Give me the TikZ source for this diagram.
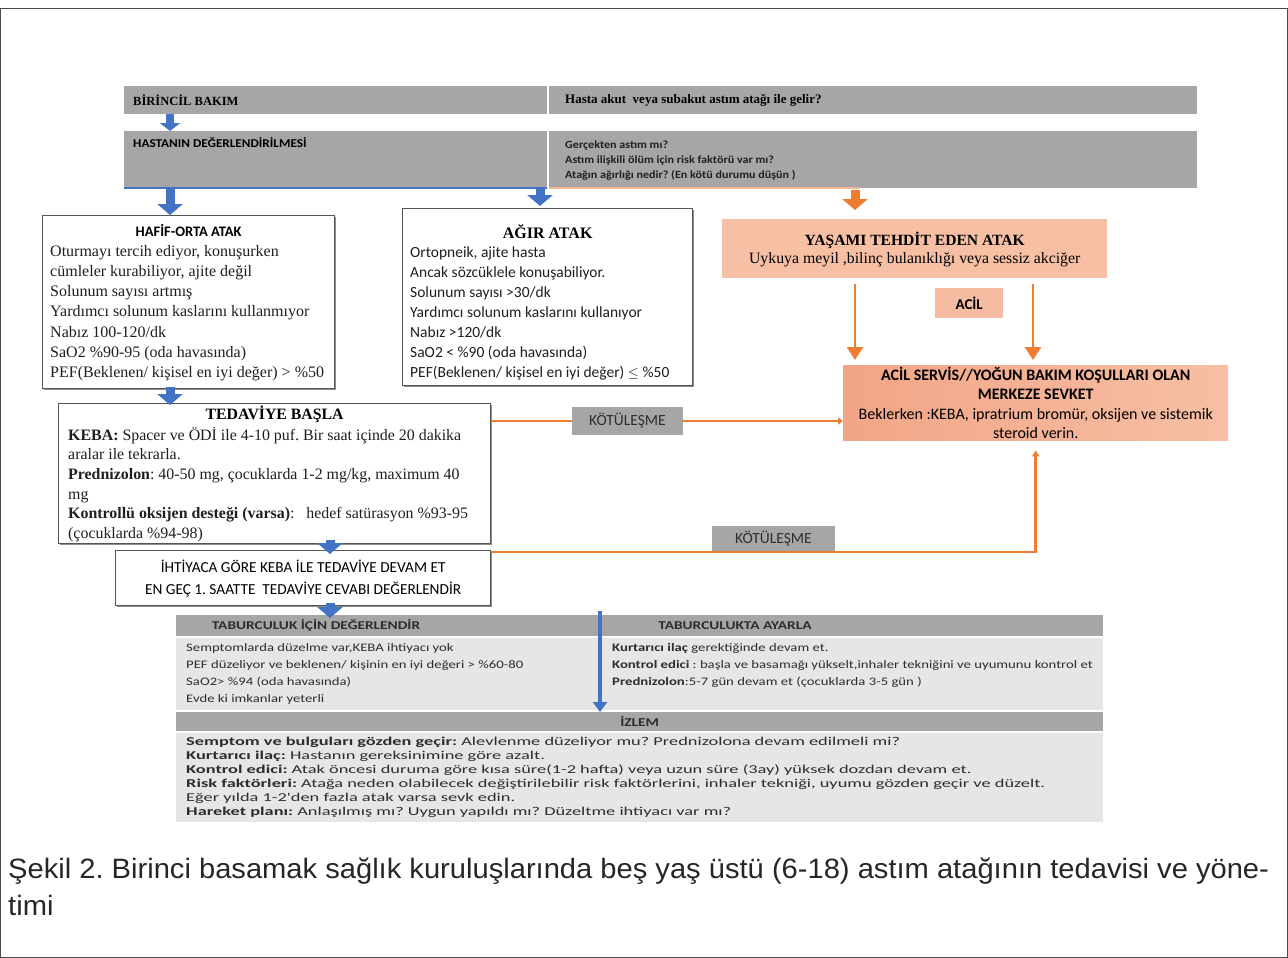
\documentclass[tikz,border=0pt]{standalone}
\usepackage{fontspec}
\setmainfont{Liberation Serif}
\newfontfamily\calfont{Carlito}
\newfontfamily\calgenis[FakeStretch=1.1]{Carlito}
\newfontfamily\genisfont[FakeStretch=1.28]{Carlito}
\newfontfamily\izlemfont[FakeStretch=1.53]{Carlito}
\newfontfamily\capfont[FakeStretch=1.04]{Liberation Sans}
\usepackage{tikz}
\usetikzlibrary{arrows.meta, positioning, calc, shadows}
\definecolor{bargray}{RGB}{166,166,166}
\definecolor{icgray}{RGB}{230,230,230}
\definecolor{astorange}{RGB}{237,125,49}
\definecolor{astblue}{RGB}{68,114,196}
\definecolor{astsalmon}{RGB}{247,191,164}
\definecolor{astsalmondark}{RGB}{242,165,134}
\definecolor{boxborder}{RGB}{85,85,85}
\definecolor{textgray}{RGB}{45,45,45}
\frenchspacing

\begin{document}
\begin{tikzpicture}[
    x=1pt, y=-1pt,
    bar/.style={rectangle, fill=bargray, inner sep=0pt, anchor=north west},
    kutu/.style={rectangle, draw=boxborder, line width=1.3pt, fill=white, inner sep=0pt, anchor=north west,
        drop shadow={shadow xshift=1.5pt, shadow yshift=-1.5pt, fill=black!45, opacity=1}},
    pembe/.style={rectangle, fill=astsalmon, inner sep=0pt, anchor=north west},
    etiket/.style={rectangle, fill=bargray, inner sep=0pt, font=\calfont\fontsize{15.5}{17}\selectfont, text=textgray},
    metin/.style={inner sep=0pt, anchor=north west, align=left, text=black!88},
    mavi/.style={draw=astblue, line width=9pt, -{Triangle[width=25pt,length=11pt]}},
    turuncu/.style={draw=astorange, line width=2.5pt}
]
\useasboundingbox (0,0) rectangle (1288,958);
\draw[black!70, line width=0.8pt] (0.5,8) rectangle (1287.5,957.5);

% Ust bantlar
\node[bar, minimum width=423pt, minimum height=28pt] (bar1sol) at (124,86) {};
\node[bar, minimum width=648pt, minimum height=28pt] (bar1sag) at (549,86) {};
\node[bar, minimum width=423pt, minimum height=57pt] (bar2sol) at (124,131) {};
\node[bar, minimum width=648pt, minimum height=57pt] (bar2sag) at (549,131) {};

\node[anchor=west, inner sep=0pt, font=\bfseries\fontsize{12.5}{14}\selectfont] (birincil) at ([xshift=9pt]bar1sol.west) {BİRİNCİL BAKIM};
\node[anchor=west, inner sep=0pt, font=\bfseries\fontsize{13}{15}\selectfont] (hasta) at ([xshift=16pt]bar1sag.west) {Hasta akut\ \ veya subakut astım atağı ile gelir?};
\node[anchor=west, inner sep=0pt, font=\calgenis\bfseries\fontsize{12}{14}\selectfont] (degerlendir) at ([xshift=9pt, yshift=-12pt]bar2sol.north west) {HASTANIN DEĞERLENDİRİLMESİ};
\node[metin, font=\calgenis\bfseries\fontsize{11}{15}\selectfont] (sorular) at ([xshift=16pt, yshift=-10pt]bar2sag.north west)
    {Gerçekten astım mı?\\Astım ilişkili ölüm için risk faktörü var mı?\\Atağın ağırlığı nedir? (En kötü durumu düşün )};

\draw[astblue, line width=2pt] (bar2sol.south west) -- (bar2sol.south east);
\draw[astorange!55, line width=2pt] (bar2sag.south west) -- ([xshift=311pt]bar2sag.south west);

% Atak kutulari
\node[kutu, minimum width=292pt, minimum height=173pt] (hafif) at (42,215) {};
\node[kutu, minimum width=290pt, minimum height=177pt] (agir) at (402,208) {};
\node[pembe, minimum width=385pt, minimum height=59pt] (yasam) at (722,219) {};
\node[pembe, fill=astsalmon!90!astsalmondark, minimum width=68pt, minimum height=30pt, font=\calfont\bfseries\fontsize{15}{17}\selectfont] (acil) at (935,288) {ACİL};
\node[pembe, left color=astsalmondark, right color=astsalmon, minimum width=385pt, minimum height=75pt] (acilservis) at (843,365) {};

\node[font=\calfont\bfseries\fontsize{14.5}{16}\selectfont, inner sep=0pt] (hafifbaslik) at ([yshift=-15pt]hafif.north) {HAFİF-ORTA ATAK};
\node[metin, font=\fontsize{16}{20.2}\selectfont] (hafifmetin) at ([xshift=8pt, yshift=-30pt]hafif.north west)
    {Oturmayı tercih ediyor, konuşurken\\cümleler kurabiliyor, ajite değil\\Solunum sayısı artmış\\Yardımcı solunum kaslarını kullanmıyor\\Nabız 100-120/dk\\SaO2 \%90-95 (oda havasında)\\PEF(Beklenen/ kişisel en iyi değer) > \%50};

\node[font=\bfseries\fontsize{16}{18}\selectfont, inner sep=0pt] (agirbaslik) at ([yshift=-24pt]agir.north) {AĞIR ATAK};
\node[metin, font=\calfont\fontsize{15.5}{20}\selectfont] (agirmetin) at ([xshift=8pt, yshift=-39pt]agir.north west)
    {Ortopneik, ajite hasta\\Ancak sözcüklele konuşabiliyor.\\Solunum sayısı >30/dk\\Yardımcı solunum kaslarını kullanıyor\\Nabız >120/dk\\SaO2 < \%90 (oda havasında)\\PEF(Beklenen/ kişisel en iyi değer) $\leq$ \%50};

\node[font=\bfseries\fontsize{15.6}{17}\selectfont, inner sep=0pt] (yasambaslik) at ([yshift=-21pt]yasam.north) {YAŞAMI TEHDİT EDEN ATAK};
\node[font=\fontsize{15.8}{17}\selectfont, inner sep=0pt] (yasammetin) at ([yshift=-41pt]yasam.north) {Uykuya meyil ,bilinç bulanıklığı veya sessiz akciğer};

\node[align=center, inner sep=0pt, font=\calfont\fontsize{16}{19.5}\selectfont] (acilmetin) at (acilservis.center)
    {\textbf{ACİL SERVİS//YOĞUN BAKIM KOŞULLARI OLAN}\\\textbf{MERKEZE SEVKET}\\Beklerken :KEBA, ipratrium bromür, oksijen ve sistemik\\steroid verin.};

% Tedavi
\node[kutu, minimum width=432pt, minimum height=140pt] (tedavi) at (58,403) {};
\node[font=\bfseries\fontsize{15.8}{17}\selectfont, inner sep=0pt] (tedavibaslik) at ([yshift=-11pt]tedavi.north) {TEDAVİYE BAŞLA};
\node[metin, font=\fontsize{15.9}{19.6}\selectfont] (tedavimetin) at ([xshift=10pt, yshift=-24pt]tedavi.north west)
    {\textbf{KEBA:} Spacer ve ÖDİ ile 4-10 puf. Bir saat içinde 20 dakika\\aralar ile tekrarla.\\\textbf{Prednizolon}: 40-50 mg, çocuklarda 1-2 mg/kg, maximum 40\\mg\\\textbf{Kontrollü oksijen desteği (varsa)}:\ \ \ hedef satürasyon \%93-95\\(çocuklarda \%94-98)};

\node[kutu, minimum width=375pt, minimum height=55pt, align=center, font=\calfont\fontsize{15.3}{22}\selectfont] (ihtiyac) at (115,550)
    {İHTİYACA GÖRE KEBA İLE TEDAVİYE DEVAM ET\\EN GEÇ 1. SAATTE\ \ TEDAVİYE CEVABI DEĞERLENDİR};

% Kotulesme baglantilari
\node[etiket, minimum width=111pt, minimum height=28pt] (kotu1) at (627.5,421) {KÖTÜLEŞME};
\node[etiket, minimum width=123pt, minimum height=26pt] (kotu2) at (773.5,539) {KÖTÜLEŞME};
\draw[turuncu] (tedavi.east |- kotu1) -- (kotu1.west);
\draw[turuncu, -{Triangle[width=7pt,length=5pt]}] (kotu1.east) -- (kotu1 -| acilservis.west);
\draw[turuncu, -{Triangle[width=7pt,length=6pt]}] ([yshift=-2pt]ihtiyac.north east) -| ([yshift=-10pt]acilservis.south);

% Taburculuk ve izlem
\node[bar, minimum width=927pt, minimum height=21pt] (taburbar) at (176,615) {};
\node[bar, fill=icgray, minimum width=927pt, minimum height=72pt] (taburic) at (176,638) {};
\node[bar, minimum width=927pt, minimum height=19pt] (izlembar) at (176,712) {};
\node[bar, fill=icgray, minimum width=927pt, minimum height=89pt] (izlemic) at (176,733) {};

\node[font=\genisfont\bfseries\fontsize{12}{14}\selectfont, text=textgray, inner sep=0pt] (taburdeg) at ([xshift=140pt]taburbar.west) {TABURCULUK İÇİN DEĞERLENDİR};
\node[font=\genisfont\bfseries\fontsize{12}{14}\selectfont, text=textgray, inner sep=0pt] (taburayar) at ([xshift=559pt]taburbar.west) {TABURCULUKTA AYARLA};
\node[font=\genisfont\bfseries\fontsize{12}{14}\selectfont, text=textgray, inner sep=0pt] (izlembaslik) at (izlembar.center) {İZLEM};

\node[metin, font=\genisfont\fontsize{11.5}{17}\selectfont, text=textgray] (taburmetin) at ([xshift=10pt, yshift=-5pt]taburic.north west)
    {Semptomlarda düzelme var,KEBA ihtiyacı yok\\PEF düzeliyor ve beklenen/ kişinin en iyi değeri > \%60-80\\SaO2> \%94 (oda havasında)\\Evde ki imkanlar yeterli};
\node[metin, font=\genisfont\fontsize{11.5}{17}\selectfont, text=textgray] (ayarmetin) at ([xshift=436pt, yshift=-5pt]taburic.north west)
    {\textbf{Kurtarıcı ilaç} gerektiğinde devam et.\\\textbf{Kontrol edici} : başla ve basamağı yükselt,inhaler tekniğini ve uyumunu kontrol et\\\textbf{Prednizolon}:5-7 gün devam et (çocuklarda 3-5 gün )};
\node[metin, font=\izlemfont\fontsize{12}{14}\selectfont, text=textgray] (izlemmetin) at ([xshift=10pt, yshift=-4pt]izlemic.north west)
    {\textbf{Semptom ve bulguları gözden geçir:} Alevlenme düzeliyor mu? Prednizolona devam edilmeli mi?\\
     \textbf{Kurtarıcı ilaç:} Hastanın gereksinimine göre azalt.\\
     \textbf{Kontrol edici:} Atak öncesi duruma göre kısa süre(1-2 hafta) veya uzun süre (3ay) yüksek dozdan devam et.\\
     \textbf{Risk faktörleri:} Atağa neden olabilecek değiştirilebilir risk faktörlerini, inhaler tekniği, uyumu gözden geçir ve düzelt.\\
     Eğer yılda 1-2'den fazla atak varsa sevk edin.\\
     \textbf{Hareket planı:} Anlaşılmış mı? Uygun yapıldı mı? Düzeltme ihtiyacı var mı?};

% Mavi oklar
\draw[mavi, line width=8pt, -{Triangle[width=20pt,length=8pt]}] ([xshift=46pt]bar1sol.south west) -- ([xshift=46pt]bar2sol.north west);
\draw[mavi] ([xshift=46pt]bar2sol.south west) -- ([xshift=128pt]hafif.north west);
\draw[mavi] ([xshift=416pt]bar2sol.south west) -- ([xshift=138pt, yshift=2pt]agir.north west);
\draw[mavi, draw=astorange] ([xshift=306pt, yshift=-2pt]bar2sag.south west) -- ([xshift=133pt, yshift=9pt]yasam.north west);
\draw[mavi] ([xshift=128pt, yshift=2pt]hafif.south west) -- ([xshift=112pt, yshift=-2pt]tedavi.north west);
\draw[mavi] ([xshift=272pt, yshift=4pt]tedavi.south west) -- ([xshift=215pt, yshift=-4pt]ihtiyac.north west);
\draw[mavi] ([xshift=215pt, yshift=3pt]ihtiyac.south west) -- ([xshift=154pt, yshift=-3pt]taburbar.north west);
\draw[draw=astblue, line width=4pt, -{Triangle[width=14pt,length=10pt]}] ([xshift=424pt, yshift=4pt]taburbar.north west) -- ([xshift=424pt]izlembar.north west);

% Turuncu oklar
\draw[turuncu, -{Triangle[width=16pt,length=13pt]}, shorten <=6pt, shorten >=5pt] ([xshift=133pt]yasam.south west) -- ([xshift=12pt]acilservis.north west);
\draw[turuncu, -{Triangle[width=16pt,length=13pt]}, shorten <=6pt, shorten >=5pt] ([xshift=311pt]yasam.south west) -- ([xshift=190pt]acilservis.north west);

% Alt yazi
\node[anchor=base west, inner sep=0pt, font=\capfont\fontsize{28}{37}\selectfont, text=black!85, align=left] (sekil) at (8,915)
    {Şekil 2. Birinci basamak sağlık kuruluşlarında beş yaş üstü (6-18) astım atağının tedavisi ve yöne-\\timi};
\end{tikzpicture}
\end{document}
